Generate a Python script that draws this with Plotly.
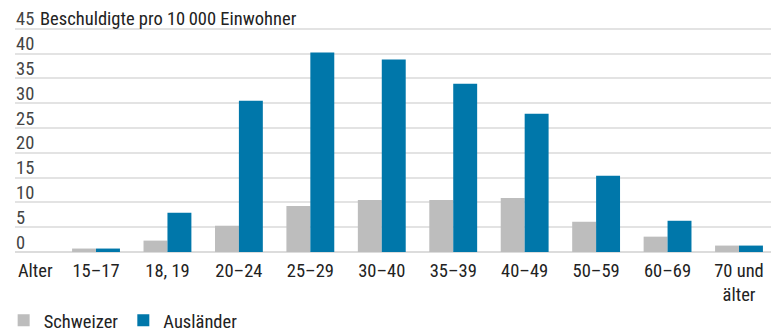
import plotly.graph_objects as go

categories = ["15–17", "18, 19", "20–24", "25–29", "30–40", "35–39", "40–49", "50–59", "60–69", "70 und<br>älter"]
schweizer = [0.7, 2.3, 5.3, 9.3, 10.5, 10.5, 10.9, 6.1, 3.1, 1.3]
auslaender = [0.7, 7.9, 30.5, 40.2, 38.8, 33.9, 27.9, 15.4, 6.3, 1.3]
y_ticks = [0, 5, 10, 15, 20, 25, 30, 35, 40, 45]
y_ticktext = ["0", "5", "10", "15", "20", "25", "30", "35", "40", "45"]
y_unit = "Beschuldigte pro 10\u2009000 Einwohner"
x_label_first = "Alter"

FONT = "Roboto Condensed, Liberation Sans Narrow, Arial Narrow, DejaVu Sans Condensed, Roboto, sans-serif"
GREY = "#bdbdbd"
BLUE = "#0077aa"
GRID = "#e3e3e3"
FS = 18.5

xs = list(range(len(categories)))

fig = go.Figure()
fig.add_trace(go.Bar(x=xs, y=schweizer, name="Schweizer", marker_color=GREY, marker_line_width=0))
fig.add_trace(go.Bar(x=xs, y=auslaender, name="Ausländer", marker_color=BLUE, marker_line_width=0))

fig.update_layout(
    width=779, height=332,
    margin=dict(l=15, r=8, t=4.3, b=76.7, pad=0, autoexpand=False),
    paper_bgcolor="white", plot_bgcolor="white",
    font=dict(family=FONT, size=FS, color="#222222"),
    barmode="group", bargap=0.33, bargroupgap=0,
    showlegend=True,
    legend=dict(orientation="h", x=-0.015, xanchor="left", y=-0.262, yanchor="middle",
                font=dict(size=FS), itemclick=False, traceorder="normal"),
    xaxis=dict(
        range=[-1.134, 9.448],
        tickmode="array",
        tickvals=[-0.85] + xs,
        ticktext=[x_label_first] + categories,
        showgrid=False, zeroline=False, showline=False, automargin=False,
        ticks="", tickfont=dict(size=FS), ticklabelstandoff=2,
    ),
    yaxis=dict(
        range=[-0.6, 50],
        tickmode="array",
        tickvals=y_ticks,
        ticktext=y_ticktext,
        ticklabelposition="inside top",
        ticklabelstandoff=-2,
        ticklabelshift=3,
        showgrid=True, gridcolor=GRID, gridwidth=2,
        zeroline=True, zerolinecolor="#dcdcdc", zerolinewidth=2,
        showline=False, ticks="", tickfont=dict(size=FS), automargin=False,
    ),
    annotations=[dict(
        text=y_unit, xref="paper", x=0, xanchor="left", xshift=23,
        yref="y", y=45, yanchor="bottom", yshift=-3,
        showarrow=False, font=dict(family=FONT, size=FS, color="#222222"),
    )],
)

fig.write_html("out.html")
